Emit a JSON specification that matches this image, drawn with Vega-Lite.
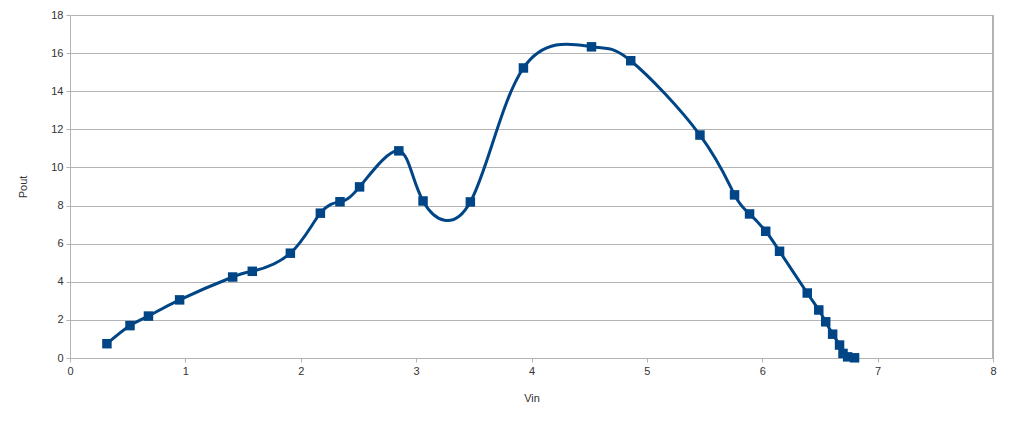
{
  "$schema": "https://vega.github.io/schema/vega-lite/v6.json",
  "width": 923,
  "height": 343,
  "autosize": "none",
  "padding": {"left": 70, "top": 15, "right": 31, "bottom": 64},
  "background": "white",
  "config": {
    "view": {"stroke": null},
    "font": "Liberation Sans",
    "axis": {
      "labelFont": "Liberation Sans",
      "titleFont": "Liberation Sans",
      "labelFontSize": 11,
      "titleFontSize": 11,
      "labelColor": "#333333",
      "titleColor": "#333333",
      "titleFontWeight": "normal",
      "domainColor": "#b3b3b3",
      "tickColor": "#b3b3b3",
      "gridColor": "#b3b3b3",
      "tickSize": 4,
      "labelFlush": false,
      "labelOverlap": false
    }
  },
  "data": {
    "values": [
      {"Vin": 0.32, "Pout": 0.75},
      {"Vin": 0.52, "Pout": 1.7},
      {"Vin": 0.68, "Pout": 2.2},
      {"Vin": 0.95, "Pout": 3.05},
      {"Vin": 1.41, "Pout": 4.25},
      {"Vin": 1.58, "Pout": 4.55},
      {"Vin": 1.91, "Pout": 5.5},
      {"Vin": 2.17, "Pout": 7.6},
      {"Vin": 2.34, "Pout": 8.2},
      {"Vin": 2.51, "Pout": 8.98},
      {"Vin": 2.85, "Pout": 10.87},
      {"Vin": 3.06, "Pout": 8.24},
      {"Vin": 3.47, "Pout": 8.19},
      {"Vin": 3.93, "Pout": 15.22},
      {"Vin": 4.52, "Pout": 16.33},
      {"Vin": 4.86, "Pout": 15.6},
      {"Vin": 5.46, "Pout": 11.7},
      {"Vin": 5.76, "Pout": 8.56},
      {"Vin": 5.89, "Pout": 7.56},
      {"Vin": 6.03, "Pout": 6.65},
      {"Vin": 6.15, "Pout": 5.6},
      {"Vin": 6.39, "Pout": 3.41},
      {"Vin": 6.49, "Pout": 2.52},
      {"Vin": 6.55, "Pout": 1.9},
      {"Vin": 6.61, "Pout": 1.25},
      {"Vin": 6.67, "Pout": 0.68},
      {"Vin": 6.7, "Pout": 0.24},
      {"Vin": 6.74, "Pout": 0.06},
      {"Vin": 6.8, "Pout": 0.01}
    ]
  },
  "encoding": {
    "x": {
      "field": "Vin", "type": "quantitative",
      "scale": {"domain": [0, 8], "nice": false, "zero": false},
      "axis": {"grid": false, "values": [0,1,2,3,4,5,6,7,8], "labelPadding": 3, "titlePadding": 16, "title": "Vin"}
    },
    "y": {
      "field": "Pout", "type": "quantitative",
      "scale": {"domain": [0, 18], "nice": false},
      "axis": {"grid": true, "values": [0,2,4,6,8,10,12,14,16,18], "labelPadding": 3, "titlePadding": 22, "title": "Pout"}
    }
  },
  "layer": [
    {
      "mark": {"type": "rule", "color": "#b3b3b3", "strokeWidth": 1},
      "encoding": {"x": {"datum": 8}, "y": {"datum": 0}, "y2": {"datum": 18}}
    },
    {
      "mark": {"type": "line", "interpolate": "natural", "color": "#004586", "strokeWidth": 3}
    },
    {
      "mark": {"type": "square", "color": "#004586", "opacity": 1, "filled": true, "size": 90}
    }
  ]
}
